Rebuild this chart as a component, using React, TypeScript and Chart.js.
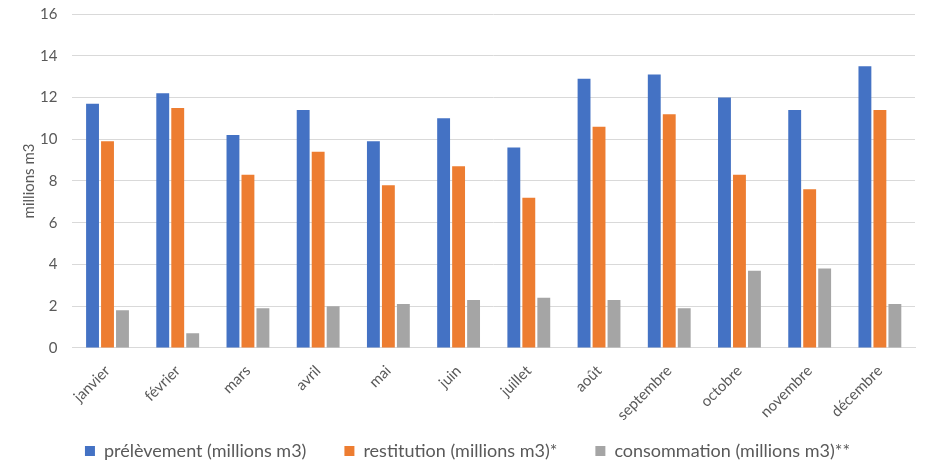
import React, { useEffect, useRef } from "react";
import { Chart, registerables } from "chart.js";

Chart.register(...registerables);

const months = [
  "janvier", "février", "mars", "avril", "mai", "juin",
  "juillet", "août", "septembre", "octobre", "novembre", "décembre",
];
const prelevement = [11.7, 12.2, 10.2, 11.4, 9.9, 11.0, 9.6, 12.9, 13.1, 12.0, 11.4, 13.5];
const restitution = [9.9, 11.5, 8.3, 9.4, 7.8, 8.7, 7.2, 10.6, 11.2, 8.3, 7.6, 11.4];
const consommation = [1.8, 0.7, 1.9, 2.0, 2.1, 2.3, 2.4, 2.3, 1.9, 3.7, 3.8, 2.1];
const yTicks = [0, 2, 4, 6, 8, 10, 12, 14, 16];

const FONT = "Lato, 'Open Sans', sans-serif";
const TEXT = "#595959";
const GRID = "#D9D9D9";

// Legend item spacing comes from labels.padding, which Chart.js also applies
// vertically; keep the wide horizontal spacing but reserve a compact box and
// let the legend's drawing area extend upwards over the free space.
const LEGEND_ITEM_GAP = 38;
const LEGEND_BOX_H = 34;
const LEGEND_LIFT = 26;

const compactLegend = {
  id: "compactLegend",
  beforeLayout(chart: any) {
    const lg = chart.legend;
    if (!lg || lg.__compact) return;
    const fit = lg.fit.bind(lg);
    lg.fit = () => {
      fit();
      lg.height = LEGEND_BOX_H;
    };
    lg.__compact = true;
  },
  afterLayout(chart: any) {
    const lg = chart.legend;
    if (!lg) return;
    lg.top -= LEGEND_LIFT;
  },
};

export default function App() {
  const ref = useRef<HTMLCanvasElement | null>(null);

  useEffect(() => {
    document.body.style.margin = "0";
    if (!ref.current) return;
    const chart = new Chart(ref.current, {
      type: "bar",
      plugins: [compactLegend],
      data: {
        labels: months,
        datasets: [
          { label: "prélèvement (millions m3)", data: prelevement, backgroundColor: "#4472C4" },
          { label: "restitution (millions m3)*", data: restitution, backgroundColor: "#ED7D31" },
          { label: "consommation (millions m3)**", data: consommation, backgroundColor: "#A5A5A5" },
        ],
      },
      options: {
        animation: false,
        responsive: false,
        maintainAspectRatio: false,
        layout: { padding: { left: 20, right: 24, top: 14, bottom: 0 } },
        datasets: { bar: { categoryPercentage: 0.64, barPercentage: 0.86 } },
        plugins: {
          tooltip: { enabled: false },
          legend: {
            position: "bottom",
            labels: {
              boxWidth: 10,
              boxHeight: 10,
              padding: LEGEND_ITEM_GAP,
              color: TEXT,
              font: { family: FONT, size: 18 },
            },
          },
        },
        scales: {
          x: {
            grid: { display: false },
            border: { display: true, color: GRID },
            ticks: {
              color: TEXT,
              font: { family: FONT, size: 15 },
              minRotation: 45,
              maxRotation: 45,
              padding: 6,
            },
          },
          y: {
            min: 0,
            max: 16,
            afterBuildTicks: (axis) => {
              axis.ticks = yTicks.map((v) => ({ value: v }));
            },
            grid: { color: GRID, drawTicks: true, tickLength: 15, tickColor: "rgba(0,0,0,0)" },
            border: { display: false },
            ticks: {
              color: TEXT,
              font: { family: FONT, size: 15 },
              padding: 0,
            },
            title: {
              display: true,
              text: "millions m3",
              color: TEXT,
              font: { family: FONT, size: 15 },
              padding: { top: 0, bottom: 2 },
            },
          },
        },
      },
    });
    return () => chart.destroy();
  }, []);

  return (
    <div style={{ width: 939, height: 464 }}>
      <canvas ref={ref} width={939} height={464} />
    </div>
  );
}
